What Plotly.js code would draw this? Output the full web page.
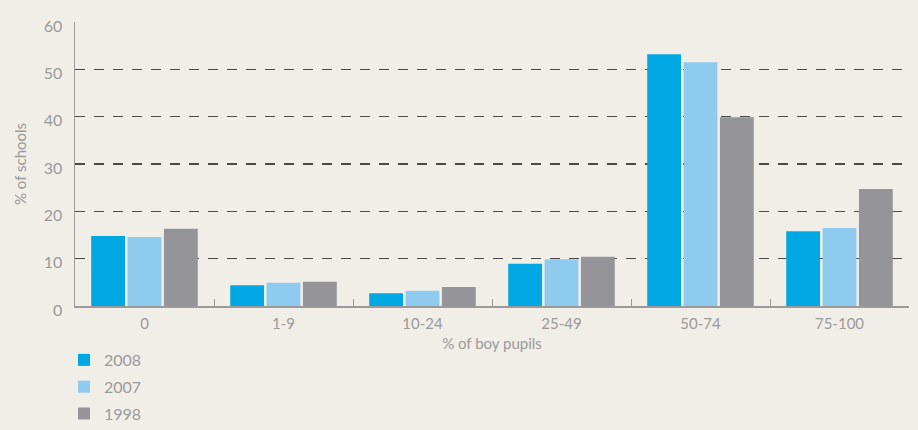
<!DOCTYPE html>
<html>
<head>
<meta charset="utf-8">
<script src="https://cdn.plot.ly/plotly-3.0.1.min.js"></script>
<style>
  html, body { margin: 0; padding: 0; background: #f1eee8; }
  #chart { width: 918px; height: 430px; }
</style>
</head>
<body>
<div id="chart"></div>
<script>
const categories = ['0', '1-9', '10-24', '25-49', '50-74', '75-100'];
const values2008 = [14.8, 4.4, 2.7, 8.9, 53.2, 15.8];
const values2007 = [14.6, 4.9, 3.2, 9.9, 51.5, 16.5];
const values1998 = [16.3, 5.1, 4.0, 10.4, 39.9, 24.7];
const yTicks = [0, 10, 20, 30, 40, 50, 60];

window.addEventListener('DOMContentLoaded', () => {
  const grey = '#9a9a9a';
  const traces = [
    { name: '2008', x: categories, y: values2008, type: 'bar', marker: { color: '#00a8e3' } },
    { name: '2007', x: categories, y: values2007, type: 'bar', marker: { color: '#8ecbef' } },
    { name: '1998', x: categories, y: values1998, type: 'bar', marker: { color: '#959599' } }
  ];
  // own legend group per trace so tracegroupgap spreads the entries
  traces.forEach(t => { t.legendgroup = t.name; });

  const layout = {
    width: 918,
    height: 430,
    margin: { l: 75, r: 9, t: 22, b: 124, autoexpand: false },
    paper_bgcolor: '#f1eee8',
    plot_bgcolor: '#f1eee8',
    font: { family: 'Lato, "Open Sans", sans-serif', color: grey, size: 15 },
    barmode: 'group',
    bargap: 0.215,
    bargroupgap: 0.07,
    showlegend: true,
    legend: {
      orientation: 'v',
      xref: 'container', yref: 'container',
      x: 64 / 918, xanchor: 'left',
      y: 1 - 343 / 430, yanchor: 'top',
      bgcolor: 'rgba(0,0,0,0)',
      font: { size: 16, color: grey },
      traceorder: 'grouped',
      tracegroupgap: 3
    },
    xaxis: {
      type: 'category',
      showline: true,
      linecolor: '#9a9a9a',
      linewidth: 1.5,
      ticks: 'inside',
      tickson: 'boundaries',
      ticklen: 7,
      tickcolor: '#9a9a9a',
      ticklabelstandoff: 3,
      tickfont: { size: 15, color: grey },
      title: { text: '% of boy pupils', font: { size: 15, color: grey }, standoff: 8 },
      showgrid: false,
      zeroline: false
    },
    yaxis: {
      range: [0, 60],
      tickvals: yTicks,
      showline: true,
      linecolor: '#9a9a9a',
      linewidth: 1.5,
      ticks: '',
      ticklabelstandoff: 8,
      ticklabelshift: 4,
      tickfont: { size: 16, color: grey },
      showgrid: true,
      gridcolor: '#4a4a4a',
      gridwidth: 1.2,
      griddash: '10px,9px',
      zeroline: false
    },
    // y title as a rotated annotation (axis title was being placed inside the plot)
    annotations: [{
      text: '% of schools',
      xref: 'paper', yref: 'paper',
      x: -55 / 834, y: 0.5,
      xanchor: 'center', yanchor: 'middle',
      textangle: -90,
      showarrow: false,
      font: { size: 15, color: grey }
    }]
  };

  Plotly.newPlot('chart', traces, layout, { displayModeBar: false, staticPlot: true });
});
</script>
</body>
</html>
